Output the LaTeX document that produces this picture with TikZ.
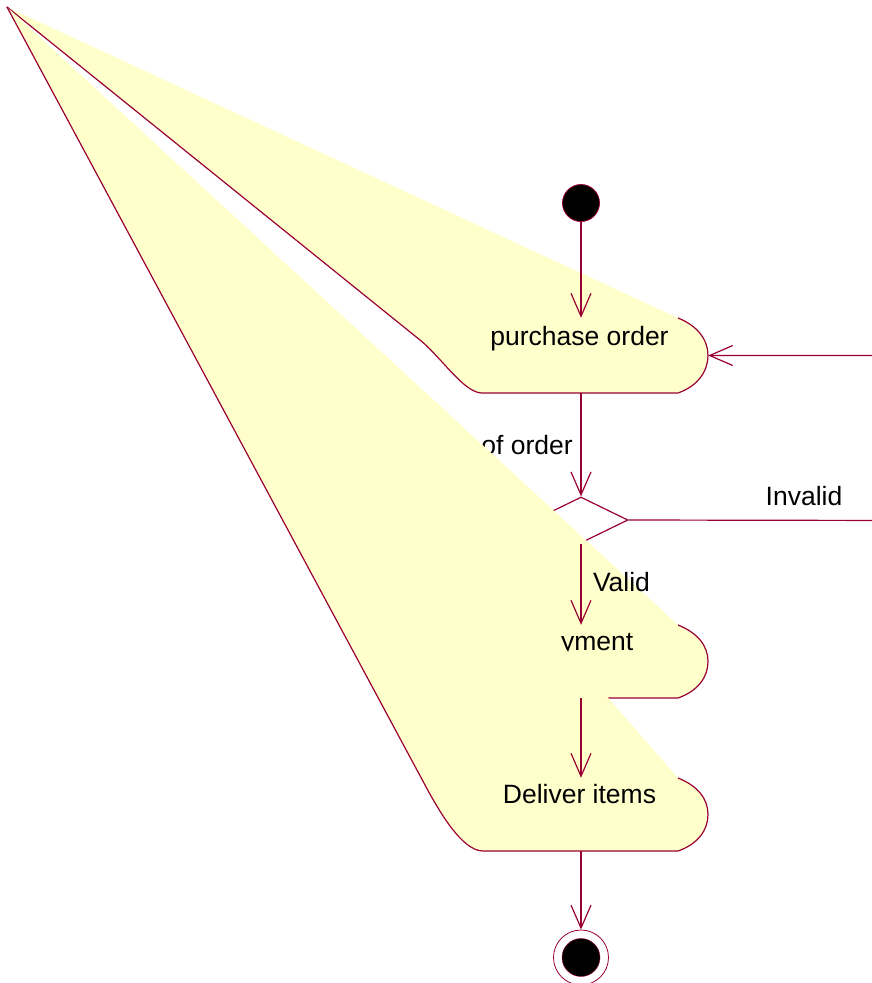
\documentclass[tikz,border=0pt]{standalone}
\usepackage{fontspec}
\setmainfont{Liberation Sans}
\usetikzlibrary{arrows.meta,calc,shapes.geometric}
\definecolor{roseline}{RGB}{153,0,51}
\definecolor{rosefill}{RGB}{255,255,204}
\tikzset{
  actbox/.style={rectangle, minimum width=254pt, minimum height=75pt, inner sep=0pt},
  actlabel/.style={anchor=base, inner sep=0pt, font=\fontsize{26.5}{31}\selectfont},
  actline/.style={draw=roseline, line width=1.2pt},
  flow/.style={->, draw=roseline, line width=1.2pt},
  >={Straight Barb[length=23pt, width=20pt]}
}

\begin{document}
\begin{tikzpicture}[x=1pt, y=-1pt]
  \useasboundingbox (0,0) rectangle (872,983);
  \clip (0,0) rectangle (872,983);

  \coordinate (apex) at (7,7);
  \node (start) [circle, fill=black, draw=roseline, thick, minimum size=37pt, inner sep=0pt] at (581,203) {};
  \node (po) [actbox] at (581,355.5) {};
  \node (dec) [diamond, draw=roseline, line width=1.2pt, minimum width=94pt, minimum height=46pt, inner sep=0pt] at (581,520) {};
  \node (pay) [actbox, minimum height=73pt] at (581,661.5) {};
  \node (del) [actbox, minimum height=73pt] at (581,814.5) {};
  \node (final) [circle, draw=roseline, thick, minimum size=55pt, inner sep=0pt] at (581,957.5) {};
  \node (finaldot) [circle, fill=black, draw=roseline, minimum size=38pt, inner sep=0pt] at (final) {};
  \coordinate (loop) at (905,520.5);

  % purchase order
  \fill[rosefill] (apex) -- (678,318)
    .. controls (698,326) and (708,340) .. (708,355.5)
    .. controls (708,371) and (698,386) .. (678,393)
    -- (482,393) .. controls (464,393) and (441,357) .. (420,340) -- cycle;
  \draw[actline] (678,318)
    .. controls (698,326) and (708,340) .. (708,355.5)
    .. controls (708,371) and (698,386) .. (678,393)
    -- (482,393) .. controls (464,393) and (441,357) .. (420,340) -- (apex);
  \node (polbl) [actlabel] at (579.5,345) {purchase order};

  \node (checklbl) [actlabel] at (527,454) {of order};

  % payment
  \fill[rosefill] (apex) -- (678,625)
    .. controls (698,633) and (708,646) .. (708,661.5)
    .. controls (708,677) and (698,691) .. (678,698)
    -- (482,698) .. controls (462,698) and (442,660) .. (425,635) -- cycle;
  \draw[actline] (678,625)
    .. controls (698,633) and (708,646) .. (708,661.5)
    .. controls (708,677) and (698,691) .. (678,698)
    -- (482,698) .. controls (462,698) and (442,660) .. (425,635) -- (apex);
  \node (paylbl) [actlabel, anchor=base east] at (633.5,650) {yment};

  % deliver items
  \fill[rosefill] (apex) -- (678,778)
    .. controls (698,786) and (708,799) .. (708,814.5)
    .. controls (708,830) and (698,844) .. (678,851)
    -- (483,851) .. controls (462,851) and (439,811) .. (425,785) -- cycle;
  \draw[actline] (678,778)
    .. controls (698,786) and (708,799) .. (708,814.5)
    .. controls (708,830) and (698,844) .. (678,851)
    -- (483,851) .. controls (462,851) and (439,811) .. (425,785) -- (apex);
  \node (dellbl) [actlabel] at (579.5,803) {Deliver items};

  \node (validlbl) [actlabel] at (621.5,591) {Valid};
  \node (invalidlbl) [actlabel] at (804,505) {Invalid};

  \draw[flow] (start) -- (po);
  \draw[flow] (po) -- (dec);
  \draw[flow] (dec) -- (pay);
  \draw[flow] (dec.east) -- (loop) |- (po.east);
  \draw[flow] (pay) -- (del);
  \draw[flow] (del) -- (final);
\end{tikzpicture}
\end{document}
